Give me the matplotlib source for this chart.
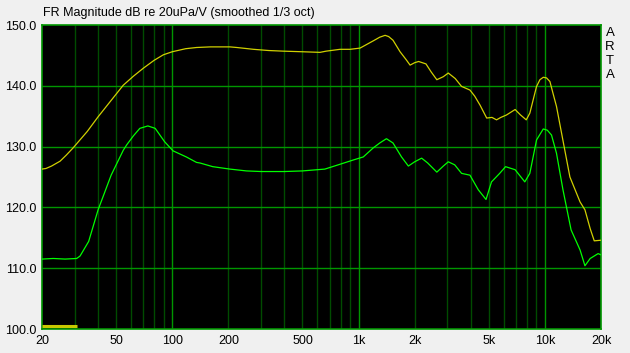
import matplotlib
matplotlib.use("Agg")
import matplotlib.pyplot as plt
import numpy as np

title = "FR Magnitude dB re 20uPa/V (smoothed 1/3 oct)"
xticks = [20, 50, 100, 200, 500, 1000, 2000, 5000, 10000, 20000]
xtick_labels = ["20", "50", "100", "200", "500", "1k", "2k", "5k", "10k", "20k"]
yticks = [100, 110, 120, 130, 140, 150]

yellow_f = [20, 21, 22.5, 25, 27, 29.4, 35, 40, 47, 54.6, 62, 70, 80, 89.6, 100, 118, 135, 160, 204, 222, 273,
            330, 394, 500, 621, 670, 796, 900, 1018, 1200, 1300, 1388, 1450, 1530, 1670, 1800,
            1890, 2000, 2100, 2300, 2450, 2630, 2850, 3030, 3300, 3570, 3960, 4200, 4490, 4870,
            5200, 5500, 5800, 6220, 6920, 7400, 7940, 8300, 8700, 9020, 9400, 9800, 10200,
            10640, 11000, 11540, 12500, 13620, 15440, 16400, 17500, 18400, 20000]
yellow_db = [126.3, 126.4, 126.8, 127.6, 128.6, 129.8, 132.5, 134.9, 137.6, 140.1, 141.6, 142.9, 144.2, 145.1, 145.6,
             146.1, 146.3, 146.4, 146.4, 146.3, 146.0, 145.8, 145.7, 145.6, 145.5, 145.7, 146.0,
             146.0, 146.2, 147.4, 148.0, 148.3, 148.1, 147.5, 145.6, 144.3, 143.4, 143.8, 144.0,
             143.6, 142.3, 141.0, 141.5, 142.1, 141.2, 139.9, 139.3, 138.3, 136.8, 134.7, 134.8,
             134.4, 134.8, 135.2, 136.1, 135.2, 134.4, 135.5, 138.0, 139.9, 141.0, 141.4, 141.3,
             140.7, 139.0, 136.6, 131.0, 125.0, 120.9, 119.6, 116.5, 114.5, 114.6]

green_f = [20, 23, 26.6, 30.7, 32, 35.6, 40, 47, 54.6, 57, 62, 67, 74, 81, 91, 101, 119, 135,
           141, 165, 204, 250, 300, 400, 500, 600, 659, 796, 937, 1060, 1200, 1300, 1411, 1530,
           1700, 1850, 2000, 2180, 2350, 2630, 2850, 3030, 3280, 3570, 3960, 4390, 4830, 5170,
           5720, 6150, 6920, 7800, 8300, 9020, 9800, 10300, 10850, 11540, 12500, 13820, 15440,
           16400, 17500, 19300, 20000]
green_db = [111.5, 111.6, 111.5, 111.6, 112.0, 114.4, 119.6, 125.3, 129.4, 130.3, 131.8, 133.0,
            133.4, 133.0, 130.8, 129.3, 128.3, 127.4, 127.3, 126.7, 126.3, 126.0, 125.9, 125.9,
            126.0, 126.2, 126.3, 127.1, 127.8, 128.3, 129.8, 130.6, 131.3, 130.6, 128.3, 126.8,
            127.5, 128.1, 127.3, 125.8, 126.8, 127.5, 127.0, 125.6, 125.3, 122.9, 121.3, 124.2,
            125.6, 126.7, 126.2, 124.2, 125.6, 131.1, 132.9, 132.7, 131.9, 128.9, 122.9, 116.3,
            113.0, 110.4, 111.6, 112.4, 112.2]

marker_f = [20, 31]
marker_db = [100.5, 100.5]

W, H = 630, 353
fig = plt.figure(figsize=(W / 100, H / 100), dpi=100, facecolor="#f0f0f0")
L, R, T, B = 42, 601, 25, 329
ax = fig.add_axes([L / W, 1 - B / H, (R - L) / W, (B - T) / H])
ax.set_facecolor("black")
ax.set_xscale("log")
ax.set_xlim(20, 20000)
ax.set_ylim(100, 150)

# grid
minor = []
for dec in [10, 100, 1000, 10000]:
    for m in range(2, 10):
        v = dec * m
        if 20 < v < 20000:
            minor.append(v)
for v in minor:
    ax.axvline(v, color="#004c00", lw=1.0, zorder=1)
for v in [100, 1000, 10000]:
    ax.axvline(v, color="#009600", lw=1.0, zorder=1)
for v in yticks[1:-1]:
    ax.axhline(v, color="#009600", lw=1.0, zorder=1)

ax.plot(yellow_f, yellow_db, color="#d0d000", lw=0.9, zorder=3)
ax.plot(green_f, green_db, color="#00ff00", lw=0.9, zorder=3)
ax.plot(marker_f, marker_db, color="#c8c800", lw=2.2, solid_capstyle="butt", zorder=3)

for s in ax.spines.values():
    s.set_color("#009600")
    s.set_linewidth(1.2)

ax.set_xticks(xticks)
ax.set_xticklabels(xtick_labels)
ax.xaxis.set_minor_locator(matplotlib.ticker.NullLocator())
ax.set_yticks(yticks)
ax.set_yticklabels([f"{v:.1f}" for v in yticks])
ax.tick_params(length=0, labelsize=9, colors="black", pad=4)
for lab in ax.get_xticklabels() + ax.get_yticklabels():
    lab.set_fontfamily("Liberation Sans")

fig.text(43 / W, 1 - 13 / H, title, fontsize=9, family="Liberation Sans", va="center", ha="left")
for i, ch in enumerate("ARTA"):
    fig.text(610 / W, 1 - (33 + i * 14) / H, ch, fontsize=9.5, family="Liberation Sans",
             va="center", ha="center")

fig.savefig("out.png", dpi=100, facecolor=fig.get_facecolor())
